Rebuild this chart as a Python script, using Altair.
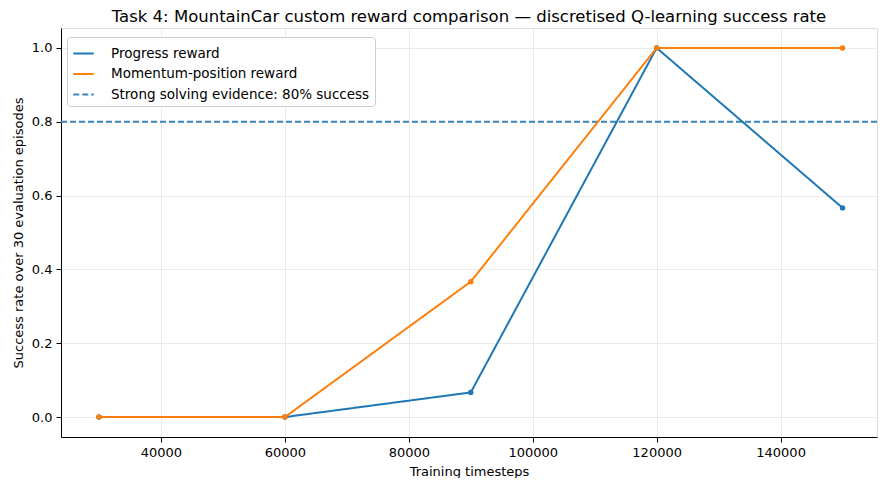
import pandas as pd
import altair as alt

# data
timesteps = [30000, 60000, 90000, 120000, 150000]
progress = [0.0, 0.0, 0.0667, 1.0, 0.5667]
momentum = [0.0, 0.0, 0.3667, 1.0, 1.0]
threshold = 0.8

s_prog = "Progress reward"
s_mom = "Momentum-position reward"
s_thr = "Strong solving evidence: 80% success"

df = pd.concat([
    pd.DataFrame({"t": timesteps, "rate": progress, "series": s_prog}),
    pd.DataFrame({"t": timesteps, "rate": momentum, "series": s_mom}),
])
thr_df = pd.DataFrame({"rate": [threshold], "series": [s_thr]})

domain = [s_prog, s_mom, s_thr]
colors = ["#1f77b4", "#ff7f0e", "#3b85bb"]
dashes = [[1, 0], [1, 0], [6, 3]]

legend = alt.Legend(
    title=None, orient="none", legendX=6, legendY=9, symbolType="stroke",
    symbolStrokeWidth=2, symbolSize=420, labelFontSize=13.5, labelFont="DejaVu Sans",
    labelLimit=500, labelColor="black", labelOffset=16,
    fillColor="white", strokeColor="#cccccc", padding=5, cornerRadius=3, rowPadding=2.5,
)
color = alt.Color("series:N", scale=alt.Scale(domain=domain, range=colors), legend=legend)
dash = alt.StrokeDash("series:N", scale=alt.Scale(domain=domain, range=dashes), legend=legend)

axis_style = dict(
    labelFont="DejaVu Sans", titleFont="DejaVu Sans", labelFontSize=13, titleFontSize=13,
    titleFontWeight="normal", gridColor="#ebebeb", domainColor="black", tickColor="black",
    labelColor="black", titleColor="black", tickSize=5, labelPadding=4, titlePadding=6,
)

x = alt.X("t:Q", title="Training timesteps",
          scale=alt.Scale(domain=[23870, 155560], nice=False, zero=False),
          axis=alt.Axis(values=list(range(40000, 160000, 20000)), format="d", **axis_style))
y = alt.Y("rate:Q", title="Success rate over 30 evaluation episodes",
          scale=alt.Scale(domain=[-0.054, 1.054], nice=False),
          axis=alt.Axis(values=[0, 0.2, 0.4, 0.6, 0.8, 1.0], format=".1f", **axis_style))

lines = alt.Chart(df).mark_line(strokeWidth=2).encode(x=x, y=y, color=color, strokeDash=dash)
points = alt.Chart(df).mark_point(filled=True, size=30, opacity=1).encode(
    x=x, y=y, color=alt.Color("series:N", scale=alt.Scale(domain=domain, range=colors), legend=None)
)
rule = alt.Chart(thr_df).mark_rule(strokeWidth=1.8).encode(y=alt.Y("rate:Q"), color=color, strokeDash=dash)

chart = (
    alt.layer(rule, lines, points)
    .properties(
        width=816, height=409,
        title=alt.TitleParams("Task 4: MountainCar custom reward comparison — discretised Q-learning success rate",
                              fontSize=16.5, fontWeight="normal", font="DejaVu Sans", offset=3, color="black"),
    )
    .configure_view(stroke="black", strokeWidth=1)
    .configure(padding={"left": 4, "top": 0, "right": 2, "bottom": 0})
)

chart.save("out.html", embed_options={"renderer": "svg", "actions": False})
